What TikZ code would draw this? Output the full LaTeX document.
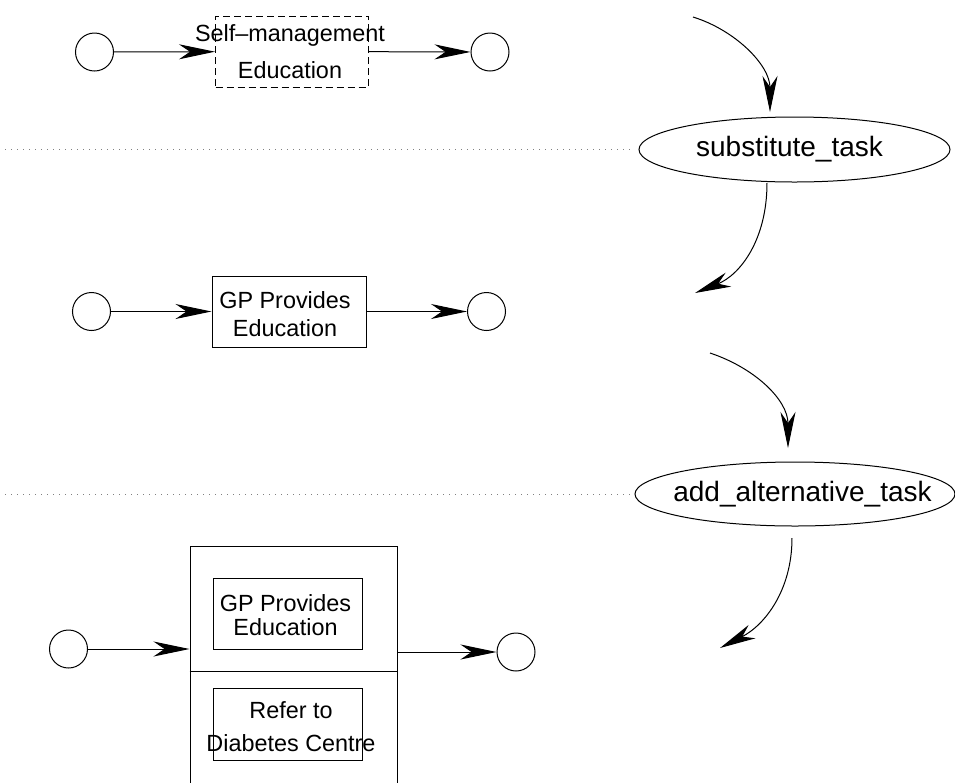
\documentclass[tikz,border=0pt]{standalone}
\usepackage{fontspec}
\setmainfont{Liberation Sans}
\usetikzlibrary{arrows.meta,positioning,shapes.geometric}
\tikzset{
  >={Stealth[length=18pt,width=7.5pt,inset=5.5pt]},
  ev/.style={circle,draw,line width=0.5pt,minimum size=19pt,inner sep=0pt},
  task/.style={draw,line width=0.5pt,inner sep=0pt},
  tlab/.style={font=\fontsize{11.7}{15}\selectfont,align=center,inner sep=0pt},
  op/.style={ellipse,draw,line width=0.5pt,inner sep=0pt},
  olab/.style={font=\fontsize{14}{16}\selectfont,inner sep=0pt},
  flow/.style={->,line width=0.5pt},
  sep/.style={draw=gray,line width=0.5pt,dash pattern=on 0.5pt off 2.5pt},
}

\begin{document}
\begin{tikzpicture}[x=0.5pt,y=-0.5pt]
  \clip (0,0) rectangle (955,783);
  % first process
  \node[ev] (a1) at (94.5,52) {};
  \node[task,dash pattern=on 3.5pt off 2pt,minimum width=76.5pt,minimum height=35.5pt] (a2) at (292,51.5) {};
  \node[tlab] (a2t) at (290,51.5) {Self--management\\[3.5pt]Education};
  \node[ev] (a3) at (490,52) {};
  \draw[flow] (a1) -- (a2);
  \draw[flow] (a2) -- (a3);
  % second process
  \node[ev] (b1) at (91.5,311.5) {};
  \node[task,minimum width=77pt,minimum height=35.5pt] (b2) at (289,311.5) {};
  \node[tlab] (b2t) at (285,314) {GP Provides\\[-1pt]Education};
  \node[ev] (b3) at (486.5,311.5) {};
  \draw[flow] (b1) -- (b2);
  \draw[flow] (b2) -- (b3);
  % third process
  \node[task,minimum width=103.5pt,minimum height=125pt] (c2) at (293.5,671) {};
  \draw[line width=0.5pt] (c2.west) -- (c2.east);
  \node[task,minimum width=74.5pt,minimum height=35.5pt] (c3) at (287.5,613.5) {};
  \node[tlab] (c3t) at (285.5,615) {GP Provides\\[-3pt]Education};
  \node[task,minimum width=74.5pt,minimum height=36pt] (c4) at (287.5,724) {};
  \node[tlab] (c4t) at (291,726.5) {Refer to\\[1.5pt]Diabetes Centre};
  \node[ev] (c1) at (68.5,649) {};
  \node[ev] (c5) at (516,652) {};
  \draw[flow] (c1) -- (c1 -| c2.west);
  \draw[flow] (c2.east |- c5) -- (c5);
  % operations
  \node[op,minimum width=155.5pt,minimum height=32.5pt] (o1) at (794.5,149.5) {};
  \node[olab] (o1t) at (789.5,149.5) {substitute\_task};
  \node[op,minimum width=160pt,minimum height=32pt] (o2) at (795,494) {};
  \node[olab] (o2t) at (802.5,494) {add\_alternative\_task};
  \coordinate (l1) at (5,149.5);
  \coordinate (l2) at (5,494);
  \draw[sep,shorten >=4.5pt] (l1) -- (o1.west);
  \draw[sep,shorten >=2.5pt] (l2) -- (o2.west);
  \coordinate (p1) at (693,17);
  \coordinate (p2) at (770,112);
  \coordinate (p3) at (767,183);
  \coordinate (p4) at (695,293);
  \coordinate (p5) at (710,353);
  \coordinate (p6) at (788,448);
  \coordinate (p7) at (792,538);
  \coordinate (p8) at (720,648);
  \draw[flow] (p1) .. controls (735,30) and (770,65) .. (p2);
  \draw[flow] (p3) .. controls (767,240) and (740,275) .. (p4);
  \draw[flow] (p5) .. controls (755,368) and (788,400) .. (p6);
  \draw[flow] (p7) .. controls (792,590) and (765,625) .. (p8);
\end{tikzpicture}
\end{document}
